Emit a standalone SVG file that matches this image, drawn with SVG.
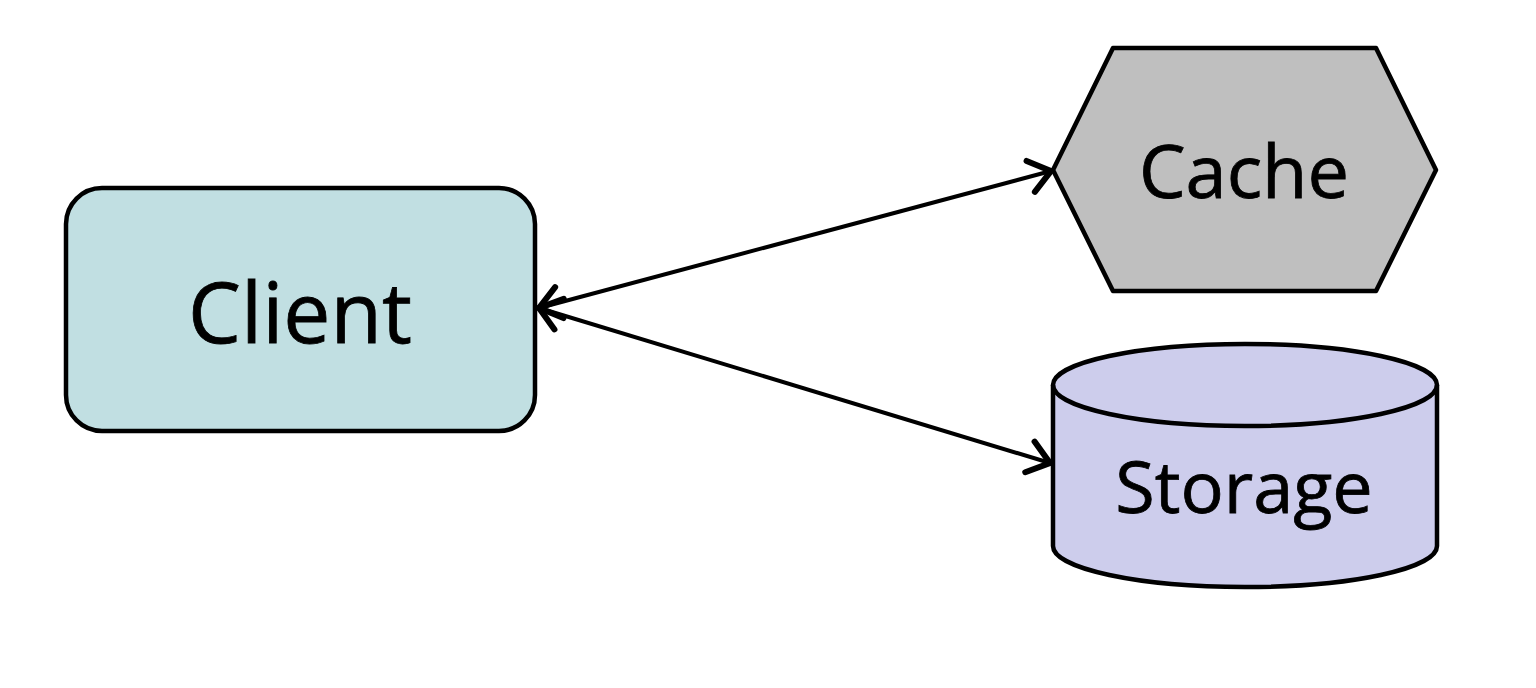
<svg xmlns="http://www.w3.org/2000/svg" width="1536" height="688" viewBox="0 0 1536 688">
  <style>
    .shape { stroke: #000; stroke-width: 4.5; stroke-linejoin: round; }
    .label { font-family: "Open Sans", "Noto Sans", sans-serif; fill: #000; text-anchor: middle; stroke: #000; stroke-width: 0.8; }
    .conn { stroke: #000; stroke-width: 4; fill: none; }
  </style>
  <defs>
    <marker id="arrow" markerUnits="userSpaceOnUse" markerWidth="40" markerHeight="40" viewBox="-30 -20 34 40" refX="0" refY="0" orient="auto-start-reverse">
      <path d="M -21 -16 L 0 0 L -21 16" fill="none" stroke="#000" stroke-width="6" stroke-linecap="round" stroke-linejoin="miter"/>
    </marker>
  </defs>
  <rect width="1536" height="688" fill="#ffffff"/>
  <g id="connectors">
    <line class="conn" x1="539" y1="308" x2="1051" y2="171" marker-start="url(#arrow)" marker-end="url(#arrow)"/>
    <line class="conn" x1="539" y1="308" x2="1050" y2="463" marker-start="url(#arrow)" marker-end="url(#arrow)"/>
  </g>
  <g id="client">
    <rect class="shape" x="66" y="188" width="469" height="243" rx="36" ry="36" fill="#c1dfe2"/>
    <text class="label" x="300" y="343" font-size="84">Client</text>
  </g>
  <g id="cache">
    <polygon class="shape" points="1113,48 1376,48 1436,170 1376,291 1113,291 1053,170" fill="#bfbfbf"/>
    <text class="label" x="1244" y="198" font-size="74">Cache</text>
  </g>
  <g id="storage">
    <path class="shape" d="M 1053 385 L 1053 546 A 192 41 0 0 0 1437 546 L 1437 385 A 192 41 0 0 0 1053 385 Z" fill="#cdcdec"/>
    <path class="shape" d="M 1053 385 A 192 41 0 0 0 1437 385" fill="none"/>
    <text class="label" x="1244" y="513" font-size="72">Storage</text>
  </g>
</svg>
